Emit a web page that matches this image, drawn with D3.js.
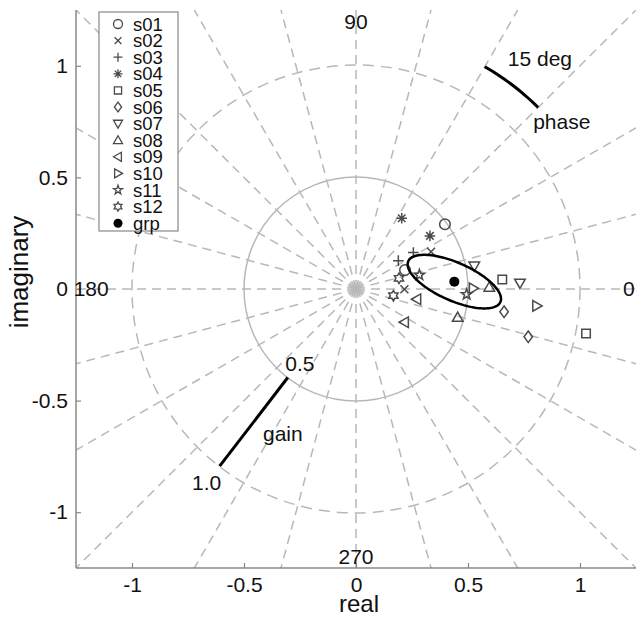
<!DOCTYPE html>
<html>
<head>
<meta charset="utf-8">
<script src="https://cdn.jsdelivr.net/npm/d3@7"></script>
<style>
  body { margin: 0; background: #fff; }
  svg { font-family: "Liberation Sans", Arial, sans-serif; }
</style>
</head>
<body>
<svg id="chart" width="644" height="617"></svg>
<script>
// subjects, two points each (real, imaginary)
var subjects = ['s01','s02','s03','s04','s05','s06','s07','s08','s09','s10','s11','s12'];
var markers  = ['circle','x','plus','asterisk','square','diamond','tridown','triup','trileft','triright','pentagram','hexagram'];
var realVals = [
  [0.397, 0.219], [0.335, 0.216], [0.256, 0.189], [0.204, 0.330],
  [0.653, 1.027], [0.661, 0.769], [0.528, 0.732], [0.595, 0.454],
  [0.271, 0.216], [0.524, 0.807], [0.283, 0.494], [0.192, 0.167]
];
var imagVals = [
  [0.290, 0.085], [0.167, -0.001], [0.163, 0.127], [0.317, 0.238],
  [0.043, -0.199], [-0.102, -0.214], [0.103, 0.026], [0.008, -0.127],
  [-0.046, -0.149], [0.003, -0.076], [0.063, -0.024], [0.048, -0.030]
];
var grpPoint = [0.439, 0.033];
// group ellipse: radii (data units) and tilt (degrees)
var ellRadii = [0.225, 0.085];
var ellTilt = -24;

var xTicks = [-1, -0.5, 0, 0.5, 1];
var yTicks = [-1, -0.5, 0, 0.5, 1];
var phaseLabels = [{a: 90, t: '90'}, {a: 270, t: '270'}, {a: 180, t: '180'}, {a: 0, t: '0'}];
var spokeAngles = d3.range(0, 360, 15);
var gainRange = [0.5, 1.0], gainAngle = 232.5;
var phaseArc = [45, 60], phaseRadius = 1.15;

var svg = d3.select('#chart');
var margin = {left: 76, top: 10, right: 8, bottom: 49};
var W = 644 - margin.left - margin.right, H = 617 - margin.top - margin.bottom;

var x = d3.scaleLinear().domain([-1.25, 1.25]).range([0, W]);
var y = d3.scaleLinear().domain([-1.25, 1.25]).range([H, 0]);
var g = svg.append('g').attr('transform', 'translate(' + margin.left + ',' + margin.top + ')');

g.append('clipPath').attr('id', 'clip').append('rect').attr('width', W).attr('height', H);
var grid = g.append('g').attr('clip-path', 'url(#clip)');
var gridCol = '#b8b8b8';
var fs = '21px';

function pol(r, deg) { var t = deg * Math.PI / 180; return [x(r * Math.cos(t)), y(r * Math.sin(t))]; }

spokeAngles.forEach(function(a) {
  var p0 = pol(0, a), p1 = pol(2, a);
  grid.append('line').attr('x1', p0[0]).attr('y1', p0[1]).attr('x2', p1[0]).attr('y2', p1[1])
    .attr('stroke', gridCol).attr('stroke-width', 1.5).attr('stroke-dasharray', '9,6');
});
grid.append('circle').attr('cx', x(0)).attr('cy', y(0)).attr('r', x(0.5) - x(0))
  .attr('fill', 'none').attr('stroke', gridCol).attr('stroke-width', 1.5);
grid.append('circle').attr('cx', x(0)).attr('cy', y(0)).attr('r', x(1) - x(0))
  .attr('fill', 'none').attr('stroke', gridCol).attr('stroke-width', 1.5).attr('stroke-dasharray', '11,7');

// axes
var axCol = '#888';
var xa = g.append('g').attr('transform', 'translate(0,' + H + ')')
  .call(d3.axisBottom(x).tickValues(xTicks).tickSize(-5).tickPadding(9).tickFormat(function(d) { return String(d); }));
var ya = g.append('g')
  .call(d3.axisLeft(y).tickValues(yTicks).tickSize(-5).tickPadding(8).tickFormat(function(d) { return String(d); }));
[xa, ya].forEach(function(a) {
  a.select('.domain').attr('stroke', axCol).attr('stroke-width', 1.5).attr('d', a === xa ? 'M0,0H' + W : 'M0,0V' + H);
  a.selectAll('.tick line').attr('stroke', axCol).attr('stroke-width', 1.2);
  a.selectAll('.tick text').attr('fill', '#111').style('font-size', fs);
});

g.append('text').attr('x', x(0) + 3).attr('y', H + 44).attr('text-anchor', 'middle')
  .style('font-size', '24px').attr('fill', '#111').text('real');
g.append('text').attr('transform', 'translate(' + (-48) + ',' + (y(0) - 17) + ') rotate(-90)')
  .attr('text-anchor', 'middle').style('font-size', '26px').attr('fill', '#111').text('imaginary');

// phase labels
phaseLabels.forEach(function(d) {
  var p = pol(1.2, d.a);
  var dx = d.a === 0 ? 4 : (d.a === 180 ? 4 : 0);
  g.append('text').attr('x', p[0] + dx).attr('y', p[1]).attr('dy', '0.35em')
    .attr('text-anchor', 'middle').style('font-size', fs).attr('fill', '#111').text(d.t);
});

// gain annotation
var ga = pol(gainRange[0], gainAngle), gb = pol(gainRange[1], gainAngle);
g.append('line').attr('x1', ga[0]).attr('y1', ga[1]).attr('x2', gb[0]).attr('y2', gb[1])
  .attr('stroke', '#000').attr('stroke-width', 3);
g.append('text').attr('x', ga[0] + 12).attr('y', ga[1] - 7).attr('text-anchor', 'middle')
  .style('font-size', fs).attr('fill', '#111').text('0.5');
g.append('text').attr('x', gb[0] - 13).attr('y', gb[1] + 24).attr('text-anchor', 'middle')
  .style('font-size', fs).attr('fill', '#111').text('1.0');
g.append('text').attr('x', ga[0] - 5).attr('y', ga[1] + 63).attr('text-anchor', 'middle')
  .style('font-size', fs).attr('fill', '#111').text('gain');

// phase annotation
var arc = d3.range(phaseArc[0], phaseArc[1] + 0.5, 1).map(function(a) { return pol(phaseRadius, a); });
g.append('path').attr('d', d3.line()(arc)).attr('fill', 'none').attr('stroke', '#000').attr('stroke-width', 3);
var pa = pol(phaseRadius, phaseArc[1]), pb = pol(phaseRadius, phaseArc[0]);
g.append('text').attr('x', pa[0] + 23).attr('y', pa[1] - 1).style('font-size', fs).attr('fill', '#111').text('15 deg');
g.append('text').attr('x', pb[0] - 5).attr('y', pb[1] + 22).style('font-size', fs).attr('fill', '#111').text('phase');

// marker paths
function markerPath(type, s) {
  var p = d3.path(), i, a;
  switch (type) {
    case 'circle': p.arc(0, 0, s, 0, 2 * Math.PI); break;
    case 'x': p.moveTo(-s*0.75,-s*0.75); p.lineTo(s*0.75,s*0.75); p.moveTo(-s*0.75,s*0.75); p.lineTo(s*0.75,-s*0.75); break;
    case 'plus': p.moveTo(-s,0); p.lineTo(s,0); p.moveTo(0,-s); p.lineTo(0,s); break;
    case 'asterisk':
      for (i = 0; i < 4; i++) { a = i * Math.PI / 4; p.moveTo(-s*Math.cos(a), -s*Math.sin(a)); p.lineTo(s*Math.cos(a), s*Math.sin(a)); }
      break;
    case 'square': p.rect(-s*0.8, -s*0.8, s*1.6, s*1.6); break;
    case 'diamond': p.moveTo(0,-s*1.1); p.lineTo(s*0.8,0); p.lineTo(0,s*1.1); p.lineTo(-s*0.8,0); p.closePath(); break;
    case 'triup': p.moveTo(0,-s); p.lineTo(s,s*0.75); p.lineTo(-s,s*0.75); p.closePath(); break;
    case 'tridown': p.moveTo(0,s); p.lineTo(s,-s*0.75); p.lineTo(-s,-s*0.75); p.closePath(); break;
    case 'trileft': p.moveTo(-s,0); p.lineTo(s*0.75,-s); p.lineTo(s*0.75,s); p.closePath(); break;
    case 'triright': p.moveTo(s,0); p.lineTo(-s*0.75,-s); p.lineTo(-s*0.75,s); p.closePath(); break;
    case 'pentagram':
      for (i = 0; i < 10; i++) {
        a = -Math.PI / 2 + i * Math.PI / 5; var r = i % 2 ? s * 0.42 : s * 1.05;
        if (i) p.lineTo(r*Math.cos(a), r*Math.sin(a)); else p.moveTo(r*Math.cos(a), r*Math.sin(a));
      }
      p.closePath(); break;
    case 'hexagram':
      for (i = 0; i < 12; i++) {
        a = -Math.PI / 2 + i * Math.PI / 6; var r2 = i % 2 ? s * 0.58 : s;
        if (i) p.lineTo(r2*Math.cos(a), r2*Math.sin(a)); else p.moveTo(r2*Math.cos(a), r2*Math.sin(a));
      }
      p.closePath(); break;
  }
  return p.toString();
}

var mkCol = '#4a4a4a';
var pts = [];
subjects.forEach(function(s, i) {
  realVals[i].forEach(function(rv, j) { pts.push({type: markers[i], re: rv, im: imagVals[i][j]}); });
});
g.selectAll('.pt').data(pts).enter().append('path').attr('class', 'pt')
  .attr('transform', function(d) { return 'translate(' + x(d.re) + ',' + y(d.im) + ')'; })
  .attr('d', function(d) { return markerPath(d.type, 5.3); })
  .attr('fill', 'none').attr('stroke', mkCol).attr('stroke-width', 1.5);

// group ellipse and mean
var et = ellTilt * Math.PI / 180;
var ell = d3.range(0, 361, 3).map(function(a) {
  var t = a * Math.PI / 180, ex = ellRadii[0] * Math.cos(t), ey = ellRadii[1] * Math.sin(t);
  return [x(grpPoint[0] + ex * Math.cos(et) - ey * Math.sin(et)), y(grpPoint[1] + ex * Math.sin(et) + ey * Math.cos(et))];
});
g.append('path').attr('d', d3.line()(ell)).attr('fill', 'none').attr('stroke', '#000').attr('stroke-width', 2.5);
g.append('circle').attr('cx', x(grpPoint[0])).attr('cy', y(grpPoint[1])).attr('r', 5).attr('fill', '#000');

// legend
var leg = svg.append('g').attr('transform', 'translate(99,12)');
leg.append('rect').attr('width', 79).attr('height', 219).attr('fill', '#fff').attr('stroke', '#888').attr('stroke-width', 1.2);
var legItems = subjects.map(function(s, i) { return {name: s, type: markers[i]}; }).concat([{name: 'grp', type: 'dot'}]);
legItems.forEach(function(d, i) {
  var yy = 12 + i * 16.6;
  if (d.type === 'dot') {
    leg.append('circle').attr('cx', 19).attr('cy', yy).attr('r', 4.5).attr('fill', '#000');
  } else {
    leg.append('path').attr('transform', 'translate(19,' + yy + ')').attr('d', markerPath(d.type, 4.5))
      .attr('fill', 'none').attr('stroke', mkCol).attr('stroke-width', 1.3);
  }
  leg.append('text').attr('x', 34).attr('y', yy).attr('dy', '0.36em').style('font-size', '18.5px').attr('fill', '#111').text(d.name);
});
</script>
</body>
</html>
